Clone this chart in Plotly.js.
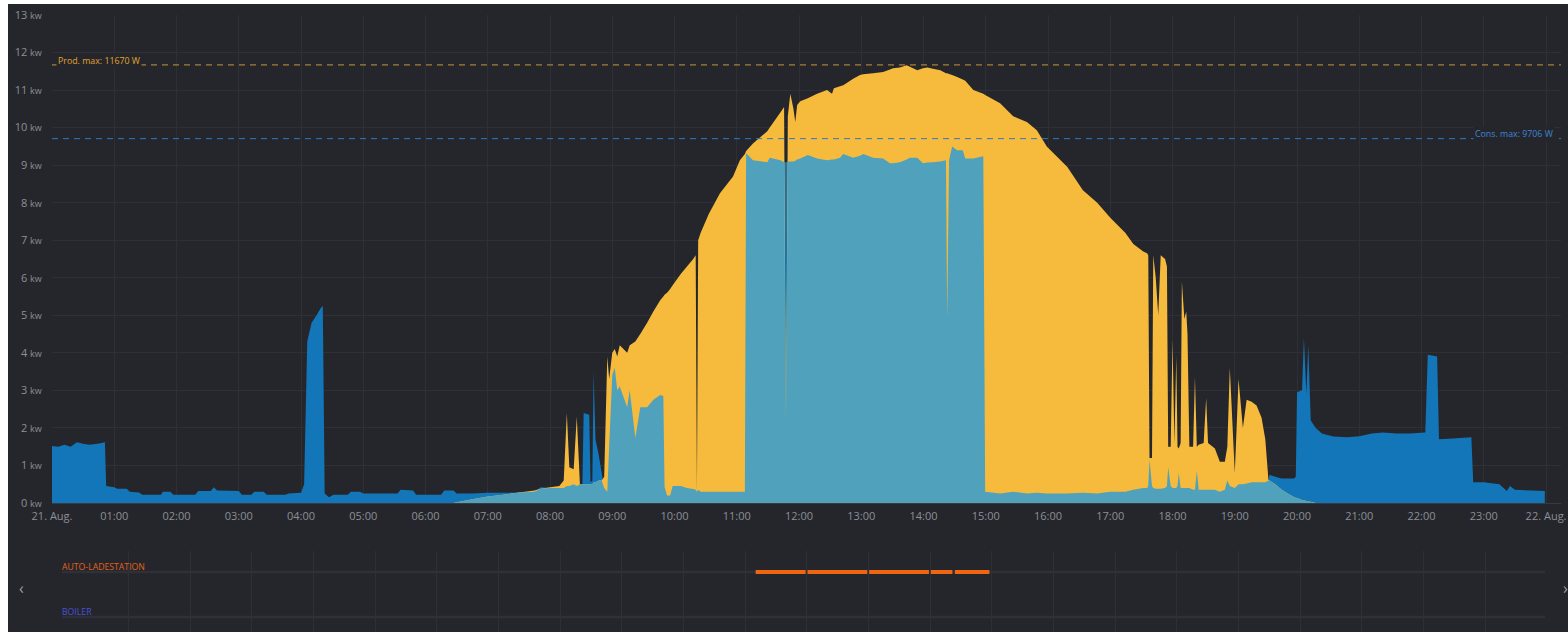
<!DOCTYPE html>
<html>
<head>
<meta charset="utf-8">
<script src="https://cdn.plot.ly/plotly-3.0.1.min.js"></script>
<style>
  html, body { margin: 0; padding: 0; background: #ffffff; }
  #chart { position: absolute; left: 8px; top: 4px; width: 1560px; height: 628px; }
</style>
</head>
<body>
<div id="chart"></div>
<script>
// ---- data (hours of 21. Aug., kW) ----
const hours = [
  0,0.1,0.2,0.3,0.4,0.5,0.6,0.7,0.8,0.85, 0.87,1.0,1.05,1.2,1.25,1.4,1.45,1.75,1.78,1.9,
  1.95,2.3,2.35,2.55,2.6,2.65,3.0,3.05,3.2,3.25, 3.4,3.45,3.75,3.8,4.0,4.05,4.1,4.17,4.25,4.32,
  4.35,4.38,4.45,4.52,4.75,4.8,4.95,5.0,5.55,5.6, 5.8,5.85,6.25,6.3,6.45,
  6.5,6.75,7.0,7.25,7.5,7.75,7.85,8.0,8.15,8.22, 8.27,8.31,8.38,8.43,8.48,8.52,8.54,8.63,8.65,8.68,
  8.7,8.73,8.78,8.83,8.87,8.92,8.95,9.0,9.04,9.08, 9.12,9.24,9.28,9.37,9.45,9.56,9.66,9.77,9.82,9.84,
  9.88,9.93,9.97,10.1,10.2,10.3,10.34,10.36,10.38,10.42, 10.55,10.73,10.94,11.05,11.13,
  11.15,11.26,11.49,11.53,11.7,11.76,11.79,11.82,11.86,11.91, 11.94,11.97,12.02,12.14,12.29,12.45,12.53,12.56,12.66,12.71,
  12.87,12.98,13.03,13.19,13.35,13.46,13.51,13.62,13.73,13.78, 13.9,13.99,14.06,14.15,14.27,14.36,14.38,14.41,14.46,14.54,
  14.63,14.67,14.8,14.96,
  14.99,15.23,15.44,15.66,15.82,15.98,16.31,16.56,16.79,17.0, 17.24,17.37,17.53,
  17.59,17.61,17.63,17.67,17.69,17.73,17.77,17.81,17.88,17.91, 17.93,17.97,18.0,18.03,18.06,18.08,18.1,18.13,18.15,18.19,
  18.22,18.24,18.27,18.33,18.36,18.39,18.42,18.5,18.54,18.57, 18.68,18.76,18.84,18.88,18.92,19.0,19.06,19.13,19.19,19.27,
  19.35,19.43,19.49,19.54,
  19.56,19.65,19.75,19.85,19.95,19.98,20.0,20.08,20.11,20.15, 20.18,20.22,20.3,20.4,20.58,20.8,21.0,21.2,21.38,21.6,
  21.8,22.06,22.1,22.25,22.28,22.5,22.8,22.83,23.0,23.25, 23.37,23.42,23.5,23.98
];
const consumptionKw = [
  1.52,1.5,1.55,1.5,1.62,1.58,1.55,1.57,1.6,1.62, 0.45,0.42,0.38,0.38,0.3,0.28,0.22,0.22,0.3,0.3,
  0.22,0.22,0.32,0.32,0.42,0.33,0.32,0.22,0.22,0.3, 0.3,0.22,0.22,0.25,0.27,0.5,4.3,4.8,5.0,5.2,
  5.25,0.25,0.15,0.22,0.22,0.3,0.3,0.25,0.25,0.35, 0.33,0.22,0.22,0.33,0.33,
  0.25,0.25,0.27,0.27,0.28,0.3,0.42,0.4,0.4,0.4, 0.45,0.45,0.5,0.45,0.5,0.5,2.4,2.35,0.55,0.6,
  3.5,1.7,1.3,0.8,0.4,0.3,1.5,3.4,3.6,3.0, 3.1,2.55,3.0,1.73,2.55,2.55,2.75,2.88,2.85,0.43,
  0.2,0.2,0.45,0.45,0.4,0.37,0.35,0.35,0.35,0.3, 0.3,0.3,0.3,0.3,0.3,
  9.32,9.13,9.08,9.2,9.13,9.08,9.08,9.1,9.1,9.1, 9.12,9.15,9.18,9.27,9.18,9.13,9.15,9.15,9.2,9.3,
  9.2,9.25,9.3,9.2,9.18,9.05,9.05,9.08,9.15,9.2, 9.2,9.05,9.07,9.08,9.1,9.13,4.9,9.13,9.5,9.4,
  9.4,9.18,9.18,9.24,
  0.3,0.25,0.3,0.25,0.27,0.25,0.25,0.27,0.25,0.3, 0.3,0.35,0.4,
  0.4,0.45,1.15,0.45,0.4,0.38,0.38,0.38,0.4,0.45, 0.95,0.45,0.4,0.4,0.4,0.45,0.8,0.4,0.4,0.4,
  0.4,0.4,0.4,0.35,0.35,0.85,0.35,0.35,0.35,0.35, 0.35,0.3,0.35,0.6,0.45,0.4,0.5,0.5,0.52,0.55,
  0.55,0.55,0.55,0.6,
  0.75,0.7,0.65,0.65,0.65,0.7,2.95,3.0,4.4,2.9, 4.2,2.2,2.0,1.85,1.77,1.75,1.78,1.85,1.88,1.85,
  1.85,1.88,3.95,3.9,1.7,1.72,1.75,0.55,0.55,0.5, 0.32,0.45,0.35,0.32
];
const productionKw = [
  0,0,0,0,0,0,0,0,0,0, 0,0,0,0,0,0,0,0,0,0,
  0,0,0,0,0,0,0,0,0,0, 0,0,0,0,0,0,0,0,0,0,
  0,0,0,0,0,0,0,0,0,0, 0,0,0,0,0,
  0.02,0.1,0.17,0.22,0.28,0.33,0.38,0.42,0.45,0.6, 2.4,0.95,0.9,2.3,0.5,0.5,0.5,0.5,0.5,0.5,
  0.55,0.55,0.6,0.6,0.7,3.9,3.3,4.0,4.1,3.9, 4.2,4.0,4.2,4.3,4.5,4.8,5.1,5.4,5.5,5.55,
  5.6,5.7,5.8,6.1,6.3,6.5,6.6,0.3,7.0,7.2, 7.7,8.25,8.7,9.13,9.3,
  9.38,9.58,9.9,10.0,10.4,10.55,2.2,10.3,10.9,10.5, 10.15,10.6,10.7,10.78,10.9,11.0,10.9,11.05,11.1,11.13,
  11.3,11.4,11.42,11.45,11.48,11.55,11.58,11.6,11.66,11.62, 11.53,11.58,11.6,11.57,11.53,11.45,11.45,11.43,11.4,11.35,
  11.28,11.25,11.0,10.9,
  10.87,10.65,10.3,10.15,9.93,9.5,8.95,8.33,8.0,7.6, 7.2,6.9,6.7,
  6.65,6.6,1.2,1.2,6.6,6.0,5.0,6.6,6.5,6.3, 1.5,1.5,4.35,1.6,3.9,1.5,1.45,1.6,5.9,4.9,
  5.1,4.5,1.5,1.5,3.35,1.5,1.55,1.6,2.8,1.6, 1.45,1.1,1.1,1.5,3.6,0.8,3.3,2.0,2.75,2.7,
  2.6,2.27,1.7,0.62,
  0.6,0.5,0.36,0.25,0.16,0.14,0.13,0.08,0.07,0.05, 0.04,0.03,0,0,0,0,0,0,0,0,
  0,0,0,0,0,0,0,0,0,0, 0,0,0,0
];
const prodMaxW = 11670;
const consMaxW = 9706;

// charging station (AUTO-LADESTATION) active periods, hours
const chargerStart = [11.17, 12.01, 13.01, 14.01, 14.40];
const chargerEnd   = [11.98, 12.98, 13.98, 14.36, 14.96];

const xTickVals = [0,1,2,3,4,5,6,7,8,9,10,11,12,13,14,15,16,17,18,19,20,21,22,23,24];
const xTickLabels = ['21. Aug.','01:00','02:00','03:00','04:00','05:00','06:00','07:00','08:00','09:00','10:00','11:00','12:00',
  '13:00','14:00','15:00','16:00','17:00','18:00','19:00','20:00','21:00','22:00','23:00','22. Aug.'];
const yTickVals = [0,1,2,3,4,5,6,7,8,9,10,11,12,13];
const yTickLabels = ['0','1','2','3','4','5','6','7','8','9','10','11','12','13'];
const yUnit = 'kw';

// ---- derived ----
const selfKw = hours.map((_, i) => Math.min(consumptionKw[i], productionKw[i]));
const chX = [], chY = [];
chargerStart.forEach((s, i) => { chX.push(s, chargerEnd[i], null); chY.push(0.74, 0.74, null); });

const BG = '#25262b';
const GRID = '#2f3036';
const TXT = '#8b8f97';

const traces = [
  {x: hours, y: consumptionKw, type: 'scatter', mode: 'none', fill: 'tozeroy', fillcolor: '#1276b9', hoverinfo: 'skip'},
  {x: hours, y: productionKw, type: 'scatter', mode: 'none', fill: 'tozeroy', fillcolor: '#f6bb3d', hoverinfo: 'skip'},
  {x: hours, y: selfKw, type: 'scatter', mode: 'none', fill: 'tozeroy', fillcolor: '#4fa1bc', hoverinfo: 'skip'},
  {x: chX, y: chY, type: 'scatter', mode: 'lines', xaxis: 'x2', yaxis: 'y2', line: {color: '#f0650f', width: 4}, hoverinfo: 'skip'}
];

const layout = {
  width: 1560, height: 628,
  margin: {l: 44, r: 7, t: 11, b: 0},
  paper_bgcolor: BG, plot_bgcolor: BG,
  showlegend: false,
  font: {family: 'Open Sans, sans-serif', color: TXT},
  xaxis: {
    domain: [0, 1], anchor: 'y', range: [0, 24.24],
    tickmode: 'array', tickvals: xTickVals, ticktext: xTickLabels,
    tickfont: {size: 11, color: TXT}, ticks: 'outside', ticklen: 3, tickcolor: 'rgba(0,0,0,0)',
    showgrid: true, gridcolor: GRID, gridwidth: 1, zeroline: false,
    showline: true, linecolor: '#393a41', linewidth: 1, fixedrange: true
  },
  yaxis: {
    domain: [0.2091, 1], anchor: 'x', range: [0, 13],
    tickmode: 'array', tickvals: yTickVals,
    ticktext: yTickLabels.map(l => l + ' <span style="font-size:9px">' + yUnit + '</span>'),
    tickfont: {size: 11, color: TXT}, ticks: 'outside', ticklen: 7, tickcolor: 'rgba(0,0,0,0)',
    showgrid: true, gridcolor: GRID, gridwidth: 1, zeroline: false, fixedrange: true
  },
  xaxis2: {
    domain: [0.00974, 0.99072], anchor: 'y2', range: [0, 24],
    tickmode: 'array', tickvals: xTickVals, showticklabels: false,
    showgrid: true, gridcolor: GRID, zeroline: false, showline: false, fixedrange: true
  },
  yaxis2: {
    domain: [0, 0.1313], anchor: 'x2', range: [0, 1],
    showgrid: false, showticklabels: false, zeroline: false, fixedrange: true
  },
  shapes: [
    {type: 'line', xref: 'paper', x0: 0.00663, x1: 0.98939, yref: 'y2', y0: 0.741, y1: 0.741,
     line: {color: '#303138', width: 2.5}, layer: 'below'},
    {type: 'line', xref: 'paper', x0: 0.00663, x1: 0.98939, yref: 'y2', y0: 0.185, y1: 0.185,
     line: {color: '#303138', width: 2.5}, layer: 'below'},
    {type: 'line', xref: 'paper', x0: 0, x1: 1, yref: 'y', y0: prodMaxW / 1000, y1: prodMaxW / 1000,
     line: {color: '#c9963a', width: 1, dash: '6px,5px'}},
    {type: 'line', xref: 'paper', x0: 0, x1: 1, yref: 'y', y0: consMaxW / 1000, y1: consMaxW / 1000,
     line: {color: '#2f78c4', width: 1, dash: '6px,5px'}}
  ],
  annotations: [
    {text: 'Prod. max: ' + prodMaxW + ' W', xref: 'paper', x: 0, xanchor: 'left', xshift: 4,
     yref: 'y', y: prodMaxW / 1000, yanchor: 'middle', yshift: 4, showarrow: false,
     font: {size: 8.8, color: '#e0a431'}, bgcolor: BG, borderpad: 1},
    {text: 'Cons. max: ' + consMaxW + ' W', xref: 'paper', x: 1, xanchor: 'right', xshift: -6,
     yref: 'y', y: consMaxW / 1000, yanchor: 'middle', yshift: 5, showarrow: false,
     font: {size: 8.8, color: '#3b86d6'}, bgcolor: BG, borderpad: 1},
    {text: 'AUTO-LADESTATION', xref: 'paper', x: 0.00663, xanchor: 'left', xshift: -2, yref: 'y2', y: 0.80, yanchor: 'middle',
     showarrow: false, font: {size: 8.7, color: '#e2611b'}},
    {text: 'BOILER', xref: 'paper', x: 0.00663, xanchor: 'left', xshift: -2, yref: 'y2', y: 0.247, yanchor: 'middle',
     showarrow: false, font: {size: 8.7, color: '#4b50d8'}},
    {text: '‹', xref: 'paper', x: -0.0205, xanchor: 'center', yref: 'y2', y: 0.543, yanchor: 'middle',
     showarrow: false, font: {size: 16, color: '#9a9ca3'}},
    {text: '›', xref: 'paper', x: 1.0027, xanchor: 'center', yref: 'y2', y: 0.543, yanchor: 'middle',
     showarrow: false, font: {size: 16, color: '#9a9ca3'}}
  ]
};

Plotly.newPlot('chart', traces, layout, {displayModeBar: false, staticPlot: true});
</script>
</body>
</html>
